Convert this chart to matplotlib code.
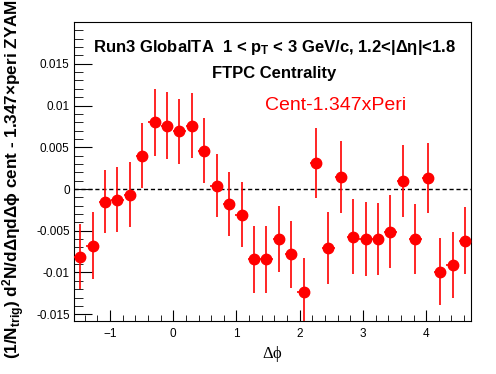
import numpy as np
import matplotlib
matplotlib.use("Agg")
import matplotlib.pyplot as plt
from matplotlib.ticker import MultipleLocator

plt.rcParams['font.family'] = ['Liberation Sans', 'DejaVu Sans']
plt.rcParams['mathtext.default'] = 'regular'

# 32 bins over [-pi/2, 3pi/2]
n_bins = 32
dphi_edges = np.linspace(-np.pi / 2, 3 * np.pi / 2, n_bins + 1)
dphi = 0.5 * (dphi_edges[:-1] + dphi_edges[1:])
dphi_err = 0.5 * np.diff(dphi_edges)

yield_vals = [-0.0081, -0.0068, -0.0015, -0.0013, -0.0007, 0.0040, 0.0080, 0.0076,
              0.0069, 0.0076, 0.0046, 0.0004, -0.0018, -0.0031, -0.0084, -0.0084,
              -0.0060, -0.0078, -0.0123, 0.0031, -0.0071, 0.0014, -0.0057, -0.0060,
              -0.0060, -0.0051, 0.0010, -0.0060, 0.0013, -0.0099, -0.0091, -0.0062]
yield_errs = [0.0039, 0.0040, 0.0038, 0.0039, 0.0039, 0.0039, 0.0040, 0.0040,
              0.0039, 0.0039, 0.0039, 0.0038, 0.0038, 0.0039, 0.0040, 0.0040,
              0.0040, 0.0040, 0.0040, 0.0042, 0.0043, 0.0043, 0.0045, 0.0044,
              0.0043, 0.0044, 0.0043, 0.0042, 0.0042, 0.0040, 0.0040, 0.0040]

fig = plt.figure(figsize=(4.96, 3.74), dpi=100)
ax = fig.add_axes([0.149, 0.142, 0.801, 0.799])

ax.errorbar(dphi, yield_vals, xerr=dphi_err, yerr=yield_errs, fmt='o', color='red',
            ecolor='red', elinewidth=1.2, markersize=7.5, capsize=0, zorder=3)
ax.axhline(0, color='black', linestyle='--', linewidth=1, dashes=(3, 2))

ax.set_xlim(-np.pi / 2, 3 * np.pi / 2)
ax.set_ylim(-0.0158, 0.02)

ax.xaxis.set_major_locator(MultipleLocator(1))
ax.xaxis.set_minor_locator(MultipleLocator(0.2))
ax.yaxis.set_minor_locator(MultipleLocator(0.001))
ax.set_yticks([-0.015, -0.01, -0.005, 0, 0.005, 0.01, 0.015])
ax.set_yticklabels(['-0.015', '-0.01', '-0.005', '0', '0.005', '0.01', '0.015'])

ax.tick_params(axis='both', which='both', direction='in', labelsize=8.5)
ax.tick_params(axis='x', which='major', length=8, pad=5)
ax.tick_params(axis='x', which='minor', length=4)
ax.tick_params(axis='y', which='major', length=13, pad=3)
ax.tick_params(axis='y', which='minor', length=6.5)

ax.set_xlabel(r'$\Delta\phi$', family='Liberation Serif', fontsize=12, labelpad=3)

fig.text(0.027, 0.04, r'(1/N$_{trig}$) d$^{2}$N/d$\Delta\eta$d$\Delta\phi$ cent - 1.347$\times$peri ZYAM',
         rotation=90, ha='center', va='bottom', fontsize=12.3, fontweight='bold')

ax.text(0.505, 0.916, r'Run3 GlobalTA  1 < p$_{T}$ < 3 GeV/c, 1.2<|$\Delta\eta$|<1.8',
        transform=ax.transAxes, ha='center', va='center', fontsize=12, fontweight='bold')
ax.text(0.505, 0.829, 'FTPC Centrality', transform=ax.transAxes, ha='center', va='center',
        fontsize=12, fontweight='bold')
ax.text(0.481, 0.722, 'Cent-1.347xPeri', transform=ax.transAxes, ha='left', va='center',
        fontsize=14, color='red')

fig.savefig('out.png', dpi=100)
